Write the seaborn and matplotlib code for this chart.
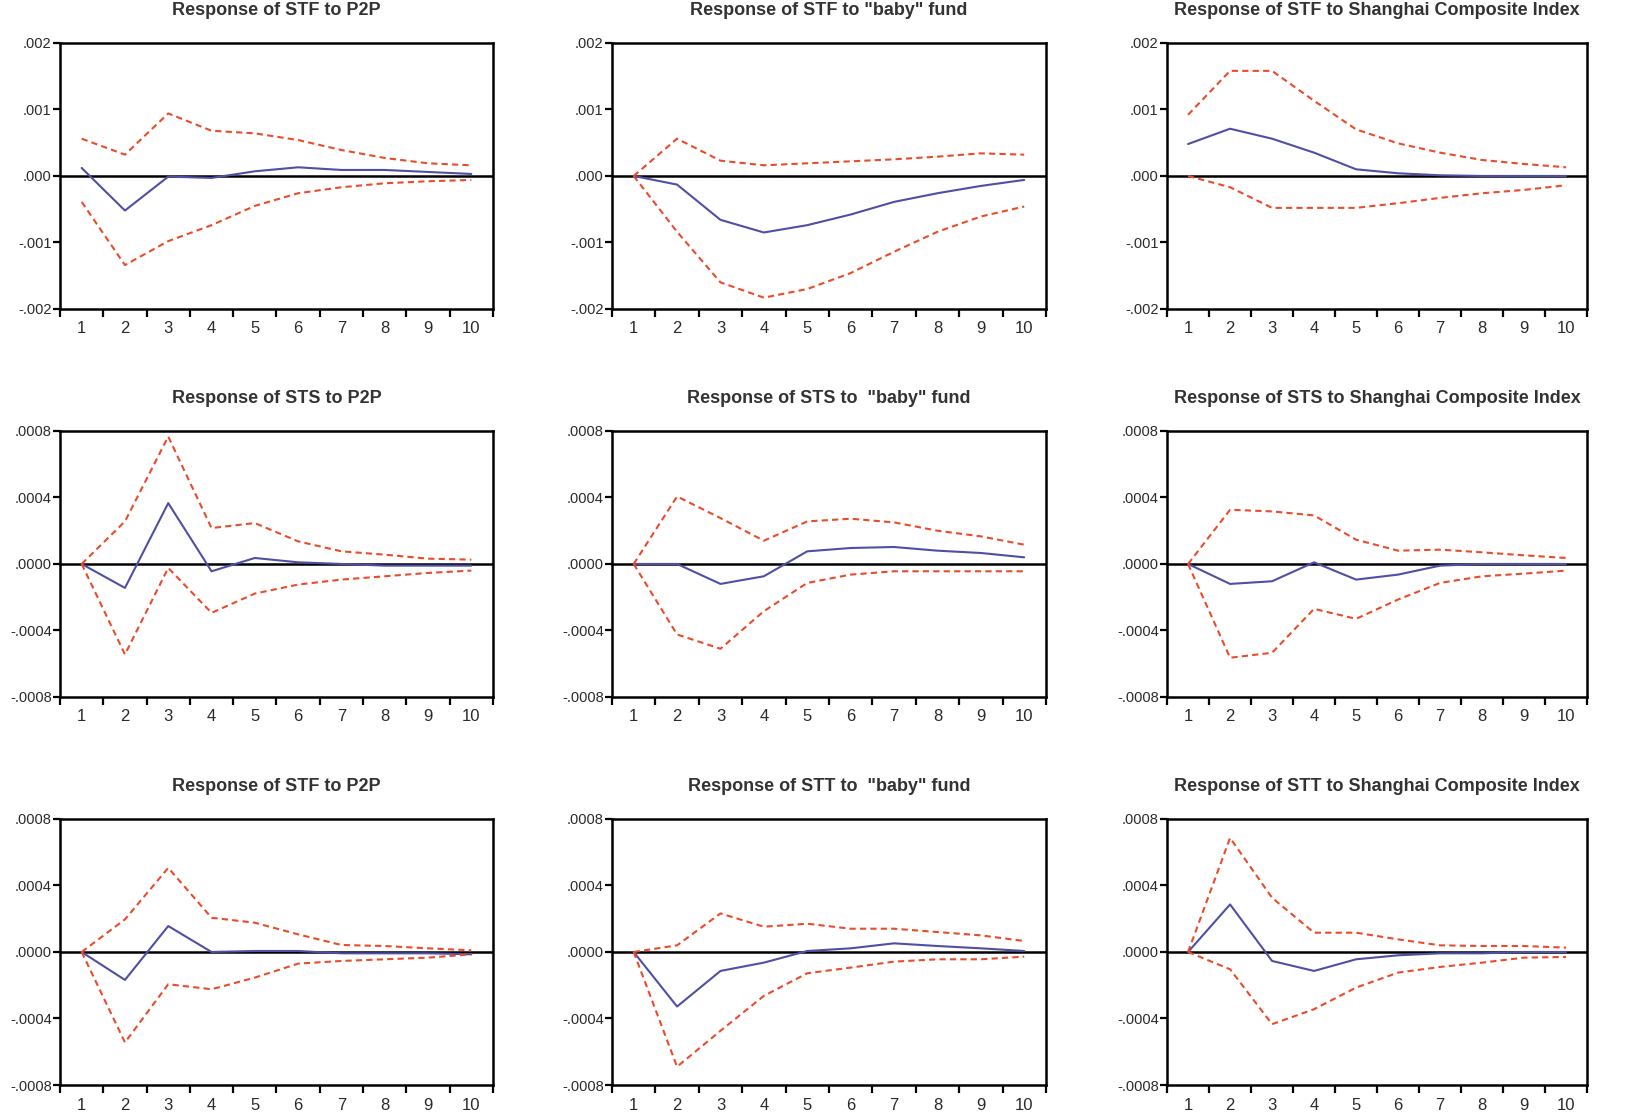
import numpy as np
import pandas as pd
import matplotlib
matplotlib.use("Agg")
import matplotlib.pyplot as plt
import seaborn as sns
from matplotlib.ticker import FixedLocator, FixedFormatter

periods = list(range(1, 11))

# Row 1 - STF
stf_p2p_resp = [0.00012, -0.00052, -0.00001, -0.00003, 0.00007, 0.00013, 0.00009, 0.00009, 0.00006, 0.00003]
stf_p2p_upper = [0.00056, 0.00032, 0.00094, 0.00068, 0.00064, 0.00054, 0.00039, 0.00027, 0.00019, 0.00016]
stf_p2p_lower = [-0.00039, -0.00134, -0.00098, -0.00074, -0.00045, -0.00026, -0.00017, -0.00011, -0.00008, -0.00006]

stf_baby_resp = [0.0, -0.00013, -0.00066, -0.00085, -0.00074, -0.00058, -0.00039, -0.00026, -0.00015, -0.00006]
stf_baby_upper = [0.0, 0.00056, 0.00023, 0.00016, 0.00019, 0.00022, 0.00025, 0.00029, 0.00034, 0.00032]
stf_baby_lower = [0.0, -0.00084, -0.00160, -0.00183, -0.00170, -0.00146, -0.00114, -0.00084, -0.00061, -0.00046]

stf_sci_resp = [0.00048, 0.00071, 0.00056, 0.00035, 0.00010, 0.00004, 0.00001, 0.0, 0.0, 0.0]
stf_sci_upper = [0.00092, 0.00158, 0.00158, 0.00113, 0.00070, 0.00049, 0.00035, 0.00024, 0.00018, 0.00013]
stf_sci_lower = [0.0, -0.00017, -0.00048, -0.00048, -0.00048, -0.00041, -0.00033, -0.00026, -0.00021, -0.00014]

# Row 2 - STS
sts_p2p_resp = [0.0, -0.000144, 0.000366, -0.000044, 0.000036, 0.00001, 0.0, -0.00001, -0.00001, -0.00001]
sts_p2p_upper = [0.0, 0.000256, 0.000766, 0.000216, 0.000246, 0.000136, 0.000076, 0.000056, 0.000032, 0.000026]
sts_p2p_lower = [0.0, -0.000544, -0.000024, -0.000294, -0.000178, -0.000124, -0.000094, -0.000074, -0.000054, -0.00004]

sts_baby_resp = [0.0, 0.0, -0.00012, -0.000074, 0.000076, 0.000096, 0.000102, 0.00008, 0.000066, 0.00004]
sts_baby_upper = [0.0, 0.000406, 0.000276, 0.00014, 0.000256, 0.000272, 0.00025, 0.0002, 0.000166, 0.000116]
sts_baby_lower = [0.0, -0.000424, -0.00051, -0.000284, -0.000114, -0.000064, -0.000044, -0.000044, -0.000044, -0.000044]

sts_sci_resp = [0.0, -0.00012, -0.000104, 0.00001, -0.000094, -0.000064, -0.00001, 0.0, 0.0, 0.0]
sts_sci_upper = [0.0, 0.000326, 0.000316, 0.000292, 0.000146, 0.00008, 0.000086, 0.00007, 0.000052, 0.000036]
sts_sci_lower = [0.0, -0.000564, -0.000534, -0.00027, -0.00033, -0.000214, -0.000114, -0.000074, -0.000058, -0.00004]

# Row 3 - STF / STT
row3_p2p_resp = [0.0, -0.000168, 0.000156, 0.0, 0.000006, 0.000006, -0.000008, -0.000008, -0.000008, -0.000014]
row3_p2p_upper = [0.0, 0.000196, 0.000506, 0.000206, 0.000176, 0.000106, 0.000042, 0.000036, 0.000022, 0.00001]
row3_p2p_lower = [0.0, -0.000544, -0.000194, -0.000224, -0.000154, -0.00007, -0.000054, -0.000044, -0.000034, -0.000014]

stt_baby_resp = [0.0, -0.000328, -0.000114, -0.000064, 0.000006, 0.000022, 0.000052, 0.000036, 0.000022, 0.000006]
stt_baby_upper = [0.0, 0.00004, 0.000232, 0.000152, 0.00017, 0.00014, 0.00014, 0.00012, 0.0001, 0.000066]
stt_baby_lower = [0.0, -0.00069, -0.000474, -0.000264, -0.000128, -0.000094, -0.000058, -0.000044, -0.000044, -0.000028]

stt_sci_resp = [0.0, 0.000286, -0.000054, -0.000114, -0.000044, -0.00002, -0.000008, -0.000008, 0.0, 0.0]
stt_sci_upper = [0.0, 0.000686, 0.000326, 0.000116, 0.000116, 0.000076, 0.00004, 0.000036, 0.000036, 0.000026]
stt_sci_lower = [0.0, -0.000104, -0.000434, -0.000344, -0.000214, -0.000124, -0.00009, -0.000064, -0.000034, -0.00003]

titles = [
    "Response of STF to P2P",
    'Response of STF to "baby" fund',
    "Response of STF to Shanghai Composite Index",
    "Response of STS to P2P",
    'Response of STS to  "baby" fund',
    "Response of STS to Shanghai Composite Index",
    "Response of STF to P2P",
    'Response of STT to  "baby" fund',
    "Response of STT to Shanghai Composite Index",
]

panels = [
    (stf_p2p_resp, stf_p2p_upper, stf_p2p_lower),
    (stf_baby_resp, stf_baby_upper, stf_baby_lower),
    (stf_sci_resp, stf_sci_upper, stf_sci_lower),
    (sts_p2p_resp, sts_p2p_upper, sts_p2p_lower),
    (sts_baby_resp, sts_baby_upper, sts_baby_lower),
    (sts_sci_resp, sts_sci_upper, sts_sci_lower),
    (row3_p2p_resp, row3_p2p_upper, row3_p2p_lower),
    (stt_baby_resp, stt_baby_upper, stt_baby_lower),
    (stt_sci_resp, stt_sci_upper, stt_sci_lower),
]

row1_ticks = [-0.002, -0.001, 0.0, 0.001, 0.002]
row1_labels = ["-.002", "-.001", ".000", ".001", ".002"]
row23_ticks = [-0.0008, -0.0004, 0.0, 0.0004, 0.0008]
row23_labels = ["-.0008", "-.0004", ".0000", ".0004", ".0008"]

sns.set_theme(style="white")
plt.rcParams["font.family"] = ["Liberation Sans", "DejaVu Sans"]

BLUE = "#4f4fa6"
RED = "#ea4b2b"
TEXT = "#2a2a2a"

fig = plt.figure(figsize=(16.35, 11.15), dpi=100)

col_pos = [(0.0367, 0.2648), (0.3743, 0.2654), (0.7138, 0.2569)]
row_pos = [(0.7229, 0.2386), (0.3749, 0.2386), (0.0269, 0.2386)]

for i, (resp, upper, lower) in enumerate(panels):
    r, c = divmod(i, 3)
    left, width = col_pos[c]
    bottom, height = row_pos[r]
    ax = fig.add_axes([left, bottom, width, height])

    df = pd.DataFrame({
        "period": periods * 3,
        "value": resp + upper + lower,
        "band": ["resp"] * 10 + ["upper"] * 10 + ["lower"] * 10,
    })
    ax.axhline(0, color="black", lw=1.8, zorder=1)
    sns.lineplot(data=df, x="period", y="value", hue="band", style="band",
                 palette={"resp": BLUE, "upper": RED, "lower": RED},
                 dashes={"resp": "", "upper": (3, 2), "lower": (3, 2)},
                 linewidth=1.5, legend=False, ax=ax, zorder=2)

    if r == 0:
        ax.set_ylim(-0.002, 0.002)
        ticks, labels = row1_ticks, row1_labels
    else:
        ax.set_ylim(-0.0008, 0.0008)
        ticks, labels = row23_ticks, row23_labels
    ax.yaxis.set_major_locator(FixedLocator(ticks))
    ax.yaxis.set_major_formatter(FixedFormatter(labels))

    ax.set_xlim(0.5, 10.5)
    ax.xaxis.set_major_locator(FixedLocator(np.arange(0.5, 11.0, 1.0)))
    ax.xaxis.set_major_formatter(FixedFormatter([""] * 11))
    ax.xaxis.set_minor_locator(FixedLocator(periods))
    ax.xaxis.set_minor_formatter(FixedFormatter([str(p) for p in periods]))

    ax.tick_params(axis="x", which="major", direction="out", length=6, width=1.6,
                   color="black", bottom=True)
    ax.tick_params(axis="x", which="minor", length=0, pad=9, labelsize=12,
                   labelcolor=TEXT, bottom=True)
    ax.tick_params(axis="y", which="major", direction="out", length=5, width=1.6,
                   color="black", pad=1, labelsize=10.5, labelcolor=TEXT, left=True)

    for spine in ax.spines.values():
        spine.set_color("black")
        spine.set_linewidth(1.8)

    ax.set_xlabel("")
    ax.set_ylabel("")
    ax.set_title(titles[i], fontsize=13, fontweight="bold", color="#333333", pad=20)

fig.savefig("out.png", dpi=100)
